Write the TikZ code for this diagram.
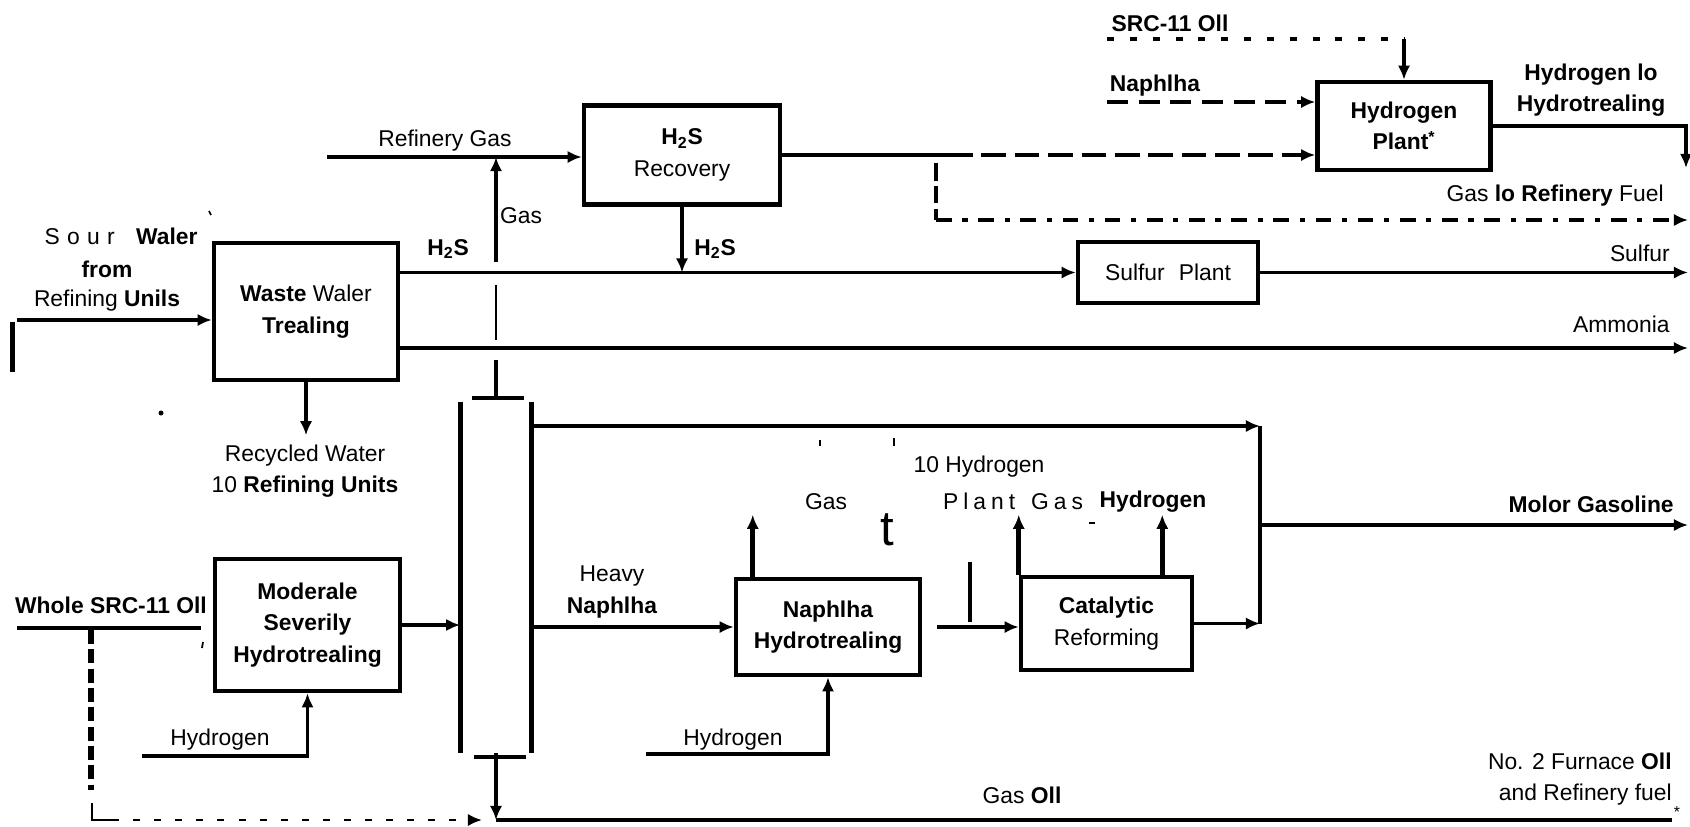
\documentclass[tikz,border=0pt]{standalone}
\usepackage{fontspec}
\setmainfont{Liberation Sans}
\usetikzlibrary{arrows.meta,positioning}
\tikzset{
  unit/.style={draw, line width=2.6pt, align=center, inner sep=2pt},
  pipe/.style={line width=1.9pt},
  flow/.style={pipe, -{Latex[length=8pt,width=7pt]}},
  riser/.style={flow, line width=2.6pt},
  lbl/.style={inner sep=0pt, align=center},
  spaced/.style={font=\fontsize{13}{18}\selectfont\addfontfeature{LetterSpace=#1}},
}
\begin{document}
\begin{tikzpicture}[x=0.02cm, y=-0.02cm, font=\fontsize{13}{18}\selectfont]
\useasboundingbox (0,0) rectangle (1690,826);

% process units
\node[unit, minimum width=3.68cm, minimum height=2.74cm] (wwt) at (306,311.5) {\textbf{Waste} Waler\\\textbf{Trealing}};
\node[unit, minimum width=3.92cm, minimum height=1.98cm] (hsrec) at (682,155) {\textbf{H\textsubscript{2}S}\\Recovery};
\node[unit, minimum width=3.46cm, minimum height=1.76cm] (hplant) at (1404,126) {\textbf{Hydrogen}\\\textbf{Plant\textsuperscript{*}}};
\node[unit, minimum width=3.6cm, minimum height=1.22cm] (splant) at (1168,272.5) {Sulfur\hspace{8pt}Plant};
\node[unit, minimum width=3.7cm, minimum height=2.64cm] (mshyd) at (307.5,625) {\textbf{Moderale}\\\textbf{Severily}\\\textbf{Hydrotrealing}};
\node[unit, minimum width=3.68cm, minimum height=1.92cm] (nht) at (828,627) {\textbf{Naphlha}\\\textbf{Hydrotrealing}};
\node[unit, minimum width=3.42cm, minimum height=1.86cm] (catref) at (1106.5,623.5) {\textbf{Catalytic}\\Reforming};
\node[minimum width=1.42cm, minimum height=7.02cm, inner sep=0pt] (col) at (496,577.5) {};
\draw[line width=2.8pt] (col.north west) -- (col.south west) (col.north east) -- (col.south east);
\draw[line width=2.4pt] ([xshift=0.24cm,yshift=0.08cm]col.north west) -- ([xshift=-0.16cm,yshift=0.08cm]col.north east);
\draw[line width=2.4pt] ([xshift=0.28cm,yshift=-0.08cm]col.south west) -- ([xshift=-0.12cm,yshift=-0.08cm]col.south east);

% labels
\node[lbl] (lrg) at (445,141) {Refinery Gas};
\node[lbl] (lgas) at (521,216) {Gas};
\node[lbl] (lhs1) at (448,249) {\textbf{H\textsubscript{2}S}};
\node[lbl] (lhs2) at (715,249) {\textbf{H\textsubscript{2}S}};
\node[lbl] (lsw1) at (121,236) {{\addfontfeature{LetterSpace=32}Sour}\hspace{8pt}\textbf{Waler}};
\node[lbl] (lsw2) at (107,269) {\textbf{from}};
\node[lbl] (lsw3) at (107,301) {Refining \textbf{Unils}};
\node[lbl] (lrw) at (305,471) {Recycled Water\\10 \textbf{Refining Units}};
\node[lbl] (lws) at (111,605) {\textbf{Whole SRC-11 Oll}};
\node[lbl] (lh1) at (220,740) {Hydrogen};
\node[lbl] (lhn) at (612,592) {Heavy\\\textbf{Naphlha}};
\node[lbl] (lgn) at (826,502) {Gas};
\node[lbl, font=\fontsize{28}{30}\selectfont] (lt) at (887,530) {t};
\node[lbl] (lhp1) at (979,467) {10 Hydrogen};
\node[lbl, spaced=22] (lhp2) at (1013,501) {Plant\hspace{9pt}Gas};
\node[lbl] (lhc) at (1153,502) {\textbf{Hydrogen}};
\node[lbl, anchor=east] (lmg) at (1674,504) {\textbf{Molor Gasoline}};
\node[lbl] (lh2) at (733,740) {Hydrogen};
\node[lbl] (lgo) at (1022,795) {Gas \textbf{Oll}};
\node[lbl, anchor=east, align=right] (lfo) at (1672,779) {No. 2 Furnace \textbf{Oll}\\and Refinery fuel};
\node[lbl] (last) at (1677,812) {\small *};
\node[lbl] (lsrc) at (1170,23) {\textbf{SRC-11 Oll}};
\node[lbl] (lnap) at (1155,86) {\textbf{Naphlha}};
\node[lbl] (lhh) at (1591,90) {\textbf{Hydrogen lo}\\\textbf{Hydrotrealing}};
\node[lbl, anchor=east] (lfuel) at (1664,196) {Gas \textbf{lo Refinery} Fuel};
\node[lbl, anchor=east] (lsul) at (1670,253) {Sulfur};
\node[lbl, anchor=east] (lamm) at (1670,324) {Ammonia};

% free ends
\coordinate (sw) at (17,320);
\coordinate (rg) at (327,157);
\coordinate (gb) at (496,262);
\coordinate (tl) at (496,340);
\coordinate (amm) at (1688,348);
\coordinate (sul) at (1688,272.5);
\coordinate (hsb) at (948,155);
\coordinate (fd) at (936,163);
\coordinate (fuel) at (1688,220);
\coordinate (src) at (1107,39);
\coordinate (nap) at (1107,102);
\coordinate (h2out) at (1686,126);
\coordinate (ws) at (17,628);
\coordinate (wse) at (201,628);
\coordinate (wsd) at (91,630);
\coordinate (gl) at (92,820);
\coordinate (gld) at (112,820);
\coordinate (glt) at (482,820);
\coordinate (go) at (1672,820);
\coordinate (hm) at (142,756);
\coordinate (hn) at (646,754);
\coordinate (mt) at (1260,426);
\coordinate (mm) at (1260,525);
\coordinate (mb) at (1260,623.5);
\coordinate (mg) at (1688,525);

% upper streams
\draw[line width=2.8pt] (12.5,322) -- (12.5,372);
\draw[flow] (sw) -- (sw -| wwt.west);
\draw[flow] (rg) -- (rg -| hsrec.west);
\draw[riser] (gb) -- (gb |- rg);
\draw[line width=1pt] (tl) -- ++(0,-55);
\draw[line width=2.8pt] (col.north) ++(0,-4) -- ++(0,-38);
\draw[flow] (wwt.east |- splant.west) -- (splant.west);
\draw[riser] (hsrec.south) -- (hsrec.south |- splant.west);
\draw[flow] (splant.east) -- (sul);
\draw[flow] (amm -| wwt.east) -- (amm);
\draw[riser] (wwt.south) -- ++(0,53);
\draw[pipe] (hsrec.east) -- (hsb);
\draw[flow, dash pattern=on 14pt off 5pt] (hsb) -- (hsb -| hplant.west);
\draw[line width=2.6pt, dash pattern=on 10pt off 3pt] (fd) -- (fd |- fuel);
\draw[flow, dash pattern=on 9pt off 6pt on 3pt off 6pt] (fd |- fuel) -- (fuel);
\draw[pipe, dash pattern=on 4pt off 9pt] (src) -- (src -| hplant.north);
\draw[riser] (src -| hplant.north) -- (hplant.north);
\draw[flow, dash pattern=on 12pt off 6pt] (nap) -- (nap -| hplant.west);
\draw[flow] (hplant.east) -- (h2out) -- ++(0,42);

% lower streams
\draw[pipe] (ws) -- (wse);
\draw[line width=3.2pt, dash pattern=on 8pt off 3pt] (wsd) -- ++(0,160);
\draw[line width=1pt] (92,803) -- (gl) -- (gld);
\draw[flow, line width=1.4pt, dash pattern=on 4pt off 8pt] (gld) -- (glt);
\draw[flow] (hm) -| (mshyd.south);
\draw[flow] (mshyd.east) -- (mshyd.east -| col.west);
\draw[riser] (col.south) -- (col.south |- go);
\draw[pipe] (col.south |- go) -- (go);
\draw[flow] (col.east |- mt) -- (mt);
\draw[pipe] (mt) -- (mb);
\draw[flow] (catref.east) -- (mb);
\draw[flow] (mm) -- (mg);
\draw[flow] (col.east |- nht.west) -- (nht.west);
\draw[riser] (nht.north west) ++(19,0) -- ++(0,-62);
\draw[riser] (hn) -| (nht.south);
\draw[flow] (nht.east) ++(15,0) -- (nht.east -| catref.west);
\draw[line width=2.6pt] (970,562) -- (970,622);
\draw[riser] (catref.north west) -- ++(0,-60);
\draw[riser] (catref.north east) ++(-32,0) -- ++(0,-60);

% specks
\fill (161,413) circle (2.5);
\draw[line width=1pt] (209,211) -- (211,215);
\draw[line width=1pt] (203,642) -- (202,648);
\draw[line width=1.2pt] (820,440) -- (820,446);
\draw[line width=1.2pt] (894,438) -- (894,446);
\draw[line width=1pt] (1089,523) -- (1095,523);
\end{tikzpicture}
\end{document}
